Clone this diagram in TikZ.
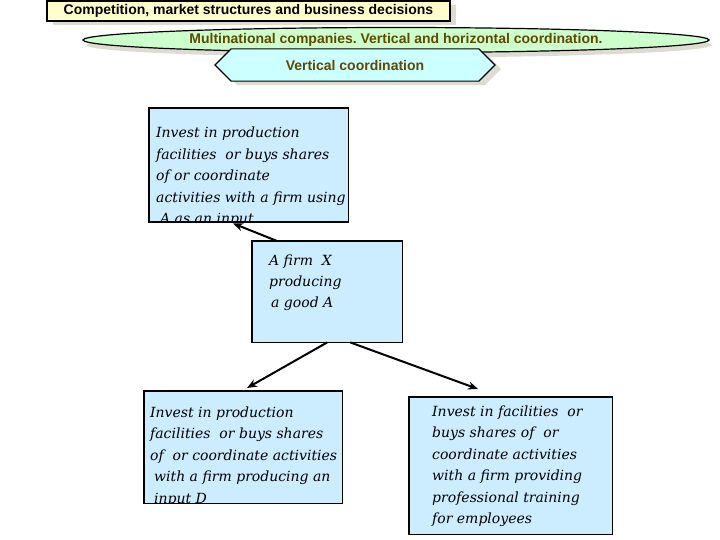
\documentclass[tikz,border=0pt]{standalone}
\usepackage{fontspec}
\setmainfont{DejaVu Serif}
\newfontfamily\sansb{Liberation Sans}
\usetikzlibrary{shapes.geometric,shapes.misc,shadows,arrows.meta}
\frenchspacing
\definecolor{boxblue}{HTML}{CCECFF}
\definecolor{titleyellow}{HTML}{FFFFCC}
\definecolor{ellgreen}{HTML}{CCFFCC}
\definecolor{octcyan}{HTML}{CCFFFF}
\definecolor{shadowgray}{HTML}{DEDBD2}
\definecolor{olivetext}{RGB}{96,72,0}
\newcommand{\itlines}[1]{\vtop{\baselineskip=21.5pt\lineskiplimit=-30pt\lineskip=0pt #1}}
\begin{document}
\begin{tikzpicture}[x=1pt,y=-1pt,
  shad/.style={drop shadow={shadow xshift=6pt,shadow yshift=-4pt,fill=shadowgray,opacity=1}},
  titlebox/.style={fill=titleyellow,draw=black,line width=1.2pt,minimum width=403pt,minimum height=20pt,inner sep=0pt,font=\sansb\bfseries\fontsize{14}{16}\selectfont,shad},
  ellbox/.style={ellipse,fill=ellgreen,draw=black,line width=1.2pt,minimum width=626pt,minimum height=25pt,inner sep=0pt,text=olivetext,font=\sansb\bfseries\fontsize{14}{16}\selectfont,drop shadow={shadow xshift=3pt,shadow yshift=-5pt,fill=shadowgray,opacity=1}},
  octbox/.style={chamfered rectangle,chamfered rectangle xsep=11pt,chamfered rectangle ysep=11pt,fill=octcyan,draw=black,line width=1.2pt,minimum width=280pt,minimum height=31pt,inner sep=0pt,text=olivetext,font=\sansb\bfseries\fontsize{14}{16}\selectfont,shad},
  bx/.style={fill=boxblue,draw=none,inner sep=0pt,anchor=north west},
  bxline/.style={draw=black,line width=1.8pt},
  txt/.style={inner sep=0pt,anchor=base west,font=\itshape\fontsize{14}{21.5}\selectfont},
  conn/.style={line width=2pt,-{Stealth[length=10pt,width=8pt]}}]
\useasboundingbox (0,0) rectangle (720,540);

% header
\node[titlebox] (title) at (248.5,11) {Competition, market structures and business decisions};
\node[ellbox] (multi) at (396,40) {Multinational companies. Vertical and horizontal coordination.};
\node[octbox] (vert) at (355,65) {Vertical coordination};

% boxes
\node[bx,minimum width=199pt,minimum height=114pt] (b1) at (149,108) {};
\node[bx,minimum width=150pt,minimum height=101pt] (b2) at (252,241) {};
\node[bx,minimum width=198pt,minimum height=112pt] (b3) at (144,391) {};
\node[bx,minimum width=203pt,minimum height=137pt] (b4) at (409,397) {};

\begin{scope}
\clip (b1.north west) rectangle (b1.south east);
\node[txt] (t1) at ([xshift=7pt,yshift=-30pt]b1.north west) {\itlines{%
\hbox{Invest in production}
\hbox{facilities\ \ or buys shares}
\hbox{of or coordinate}
\hbox{activities with a firm using}
\hbox{\hspace*{4pt}A as an input}}};
\end{scope}
\begin{scope}
\clip (b2.north west) rectangle (b2.south east);
\node[txt] (t2) at ([xshift=17pt,yshift=-24pt]b2.north west) {\itlines{%
\hbox{A firm\ \ X}
\hbox{producing}
\hbox{\hspace*{2pt}a good A}}};
\end{scope}
\begin{scope}
\clip (b3.north west) rectangle (b3.south east);
\node[txt] (t3) at ([xshift=6pt,yshift=-26pt]b3.north west) {\itlines{%
\hbox{Invest in production}
\hbox{facilities\ \ or buys shares}
\hbox{of\ \ or coordinate activities}
\hbox{\hspace*{4pt}with a firm producing an}
\hbox{\hspace*{4pt}input D}}};
\end{scope}
\begin{scope}
\clip (b4.north west) rectangle (b4.south east);
\node[txt] (t4) at ([xshift=23pt,yshift=-19pt]b4.north west) {\itlines{%
\hbox{Invest in facilities\ \ or}
\hbox{buys shares of\ \ or}
\hbox{coordinate activities}
\hbox{with a firm providing}
\hbox{professional training}
\hbox{for employees}}};
\end{scope}

\foreach \b in {b1,b2,b3,b4} \draw[bxline] (\b.north west) rectangle (\b.south east);

% connectors
\draw[conn] ([xshift=25pt]b2.north west) -- ([xshift=84pt,yshift=-1pt]b1.south west);
\draw[conn] (b2.south) -- ([xshift=103pt,yshift=3pt]b3.north west);
\draw[conn] ([xshift=23pt]b2.south) -- ([xshift=69pt,yshift=8pt]b4.north west);
\end{tikzpicture}
\end{document}
